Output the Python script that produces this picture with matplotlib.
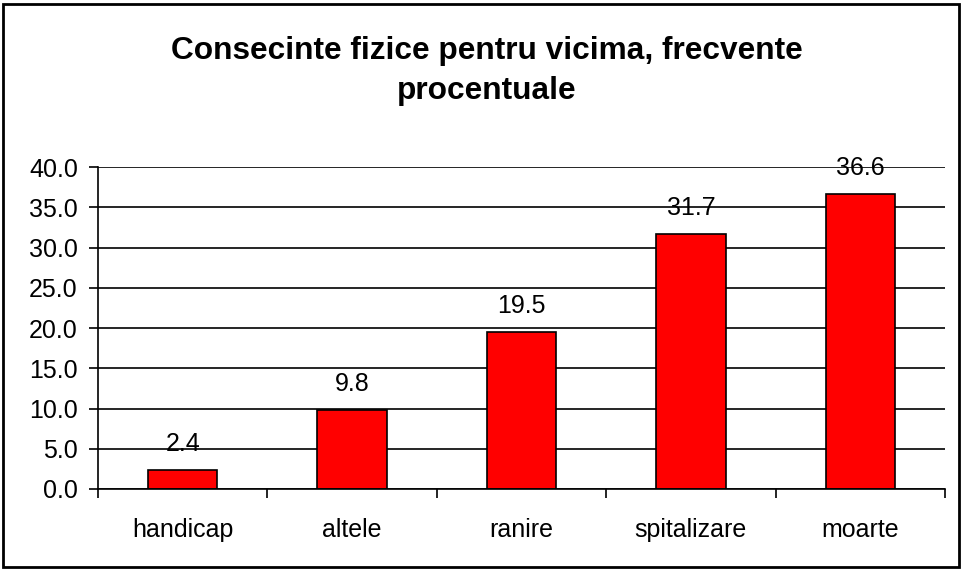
import matplotlib.pyplot as plt
import numpy as np
from matplotlib.patches import Rectangle

categories = ['handicap', 'altele', 'ranire', 'spitalizare', 'moarte']
values = [2.4, 9.8, 19.5, 31.7, 36.6]
title = 'Consecinte fizice pentru vicima, frecvente\nprocentuale'

plt.rcParams['font.family'] = ['Liberation Sans', 'DejaVu Sans']

fig = plt.figure(figsize=(9.63, 5.71), dpi=100)
ax = fig.add_axes([98/963, 82/571, 847/963, 322/571])

x = np.arange(len(categories))
bars = ax.bar(x, values, width=0.41, color='#ff0000', edgecolor='black', linewidth=1.2, zorder=3)
for rect, v in zip(bars, values):
    ax.annotate(f'{v:.1f}', xy=(rect.get_x() + rect.get_width() / 2, v),
                xytext=(0, 10), textcoords='offset points',
                ha='center', va='bottom', fontsize=18, zorder=1)

ax.set_xlim(-0.5, len(categories) - 0.5)
ax.set_ylim(0, 40)
ax.set_yticks(np.arange(0, 41, 5))
ax.set_yticklabels([f'{t:.1f}' for t in np.arange(0, 41, 5)], fontsize=18)
ax.yaxis.grid(True, color='black', linewidth=1.2, zorder=2)

# ticks at category boundaries, labels centred
ax.set_xticks(np.arange(-0.5, len(categories), 1))
ax.set_xticklabels([])
ax.set_xticks(x, minor=True)
ax.set_xticklabels(categories, minor=True, fontsize=18)
ax.tick_params(axis='x', which='minor', length=0, pad=21)
ax.tick_params(axis='both', which='major', direction='out', length=6.5, width=1.2, color='black')
ax.tick_params(axis='y', pad=8)

for s in ['top', 'right']:
    ax.spines[s].set_visible(False)
for s in ['left', 'bottom']:
    ax.spines[s].set_linewidth(1.2)
    ax.spines[s].set_zorder(4)

fig.text(487/963, 1 - 71/571, title, ha='center', va='center', fontsize=22.8,
         fontweight='bold', linespacing=1.45)

fig.patches.append(Rectangle((3/963, 4/571), 956/963, 563/571, transform=fig.transFigure,
                             fill=False, edgecolor='black', linewidth=2))

fig.savefig('out.png', dpi=100)
